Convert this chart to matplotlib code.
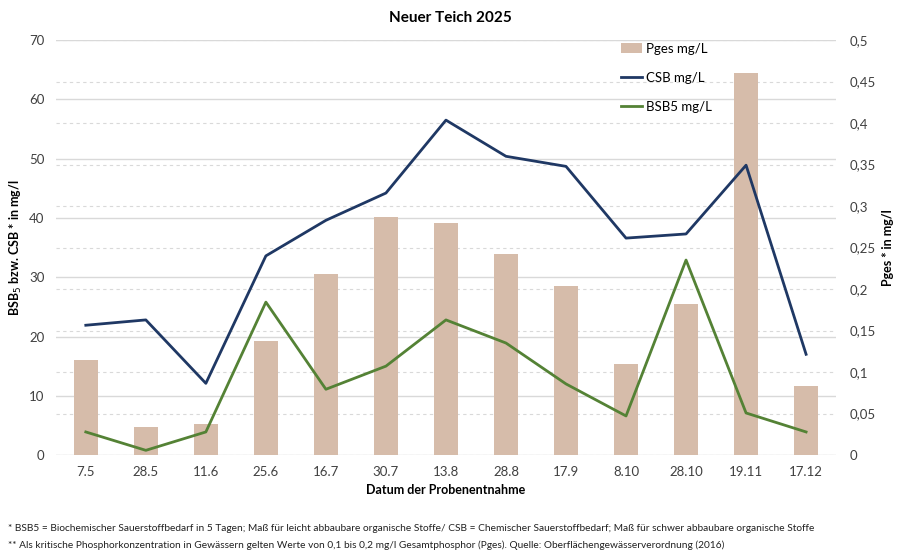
import matplotlib.pyplot as plt
import numpy as np

plt.rcParams['font.family'] = ['Lato', 'DejaVu Sans']

# Data
dates = ['7.5', '28.5', '11.6', '25.6', '16.7', '30.7', '13.8',
         '28.8', '17.9', '8.10', '28.10', '19.11', '17.12']
pges = [0.114, 0.034, 0.037, 0.137, 0.218, 0.287, 0.280,
        0.242, 0.204, 0.110, 0.182, 0.460, 0.083]
csb = [21.9, 22.8, 12.1, 33.6, 39.6, 44.2, 56.5, 50.4, 48.7, 36.6, 37.3, 48.9, 17.0]
bsb5 = [3.9, 0.8, 3.9, 25.8, 11.1, 15.0, 22.8, 18.9, 12.0, 6.6, 32.9, 7.1, 3.9]

left_ticks = np.arange(0, 71, 10)
right_ticks = np.arange(0, 0.501, 0.05)
right_labels = ['0', '0,05', '0,1', '0,15', '0,2', '0,25', '0,3', '0,35', '0,4', '0,45', '0,5']

fig = plt.figure(figsize=(9, 5.57), dpi=100)
ax2 = fig.add_axes([0.062, 0.183, 0.867, 0.745])
ax = ax2.twinx()
ax.yaxis.tick_left()
ax.yaxis.set_label_position('left')
ax2.yaxis.tick_right()
ax2.yaxis.set_label_position('right')
ax.set_zorder(ax2.get_zorder() + 1)
ax.patch.set_visible(False)

x = np.arange(len(dates))

# gridlines behind bars
for t in right_ticks:
    ax2.axhline(t, color='#d9d9d9', lw=0.8, ls=(0, (3, 3)), zorder=0)
for t in left_ticks:
    ax2.axhline(t / 70 * 0.5, color='#d9d9d9', lw=1.0, zorder=0.5)

bars = ax2.bar(x, pges, width=0.4, color='#d6bcaa', zorder=2, label='Pges mg/L')
l1, = ax.plot(x, csb, color='#1f3864', lw=2, label='CSB mg/L')
l2, = ax.plot(x, bsb5, color='#548235', lw=2, label='BSB5 mg/L')

ax.set_xlim(-0.5, len(dates) - 0.5)
ax.set_ylim(0, 70)
ax2.set_ylim(0, 0.5)
ax.set_yticks(left_ticks)
ax2.set_yticks(right_ticks)
ax2.set_yticklabels(right_labels)
ax2.set_xticks(x)
ax2.set_xticklabels(dates)

for a in (ax, ax2):
    for s in a.spines.values():
        s.set_visible(False)
    a.tick_params(length=0, labelsize=9.5, colors='#404040', pad=8)
ax2.tick_params(axis='y', pad=10)

ax.set_ylabel('BSB$_5$ bzw. CSB * in mg/l', fontsize=9, fontweight='bold', labelpad=4)
ax2.set_ylabel('Pges * in mg/l', fontsize=9, fontweight='bold', labelpad=4)
ax2.set_xlabel('Datum der Probenentnahme', fontsize=9, fontweight='bold', labelpad=4)

fig.text(0.5, 0.967, 'Neuer Teich 2025', ha='center', va='center',
         fontsize=11, fontweight='bold')

fig.legend(handles=[bars, l1, l2], loc='upper left', bbox_to_anchor=(0.677, 0.945),
           frameon=False, fontsize=9.5, labelspacing=1.3, handlelength=1.6,
           handletextpad=0.3)

fig.text(0.009, 0.052, '* BSB5 = Biochemischer Sauerstoffbedarf in 5 Tagen; Maß für leicht abbaubare '
         'organische Stoffe/ CSB = Chemischer Sauerstoffbedarf; Maß für schwer abbaubare organische Stoffe',
         fontsize=7.3, va='center', color='#202020')
fig.text(0.009, 0.022, '** Als kritische Phosphorkonzentration in Gewässern gelten Werte von 0,1 bis '
         '0,2 mg/l Gesamtphosphor (Pges). Quelle: Oberflächengewässerverordnung (2016)',
         fontsize=7.3, va='center', color='#202020')

fig.savefig('out.png', dpi=100)
